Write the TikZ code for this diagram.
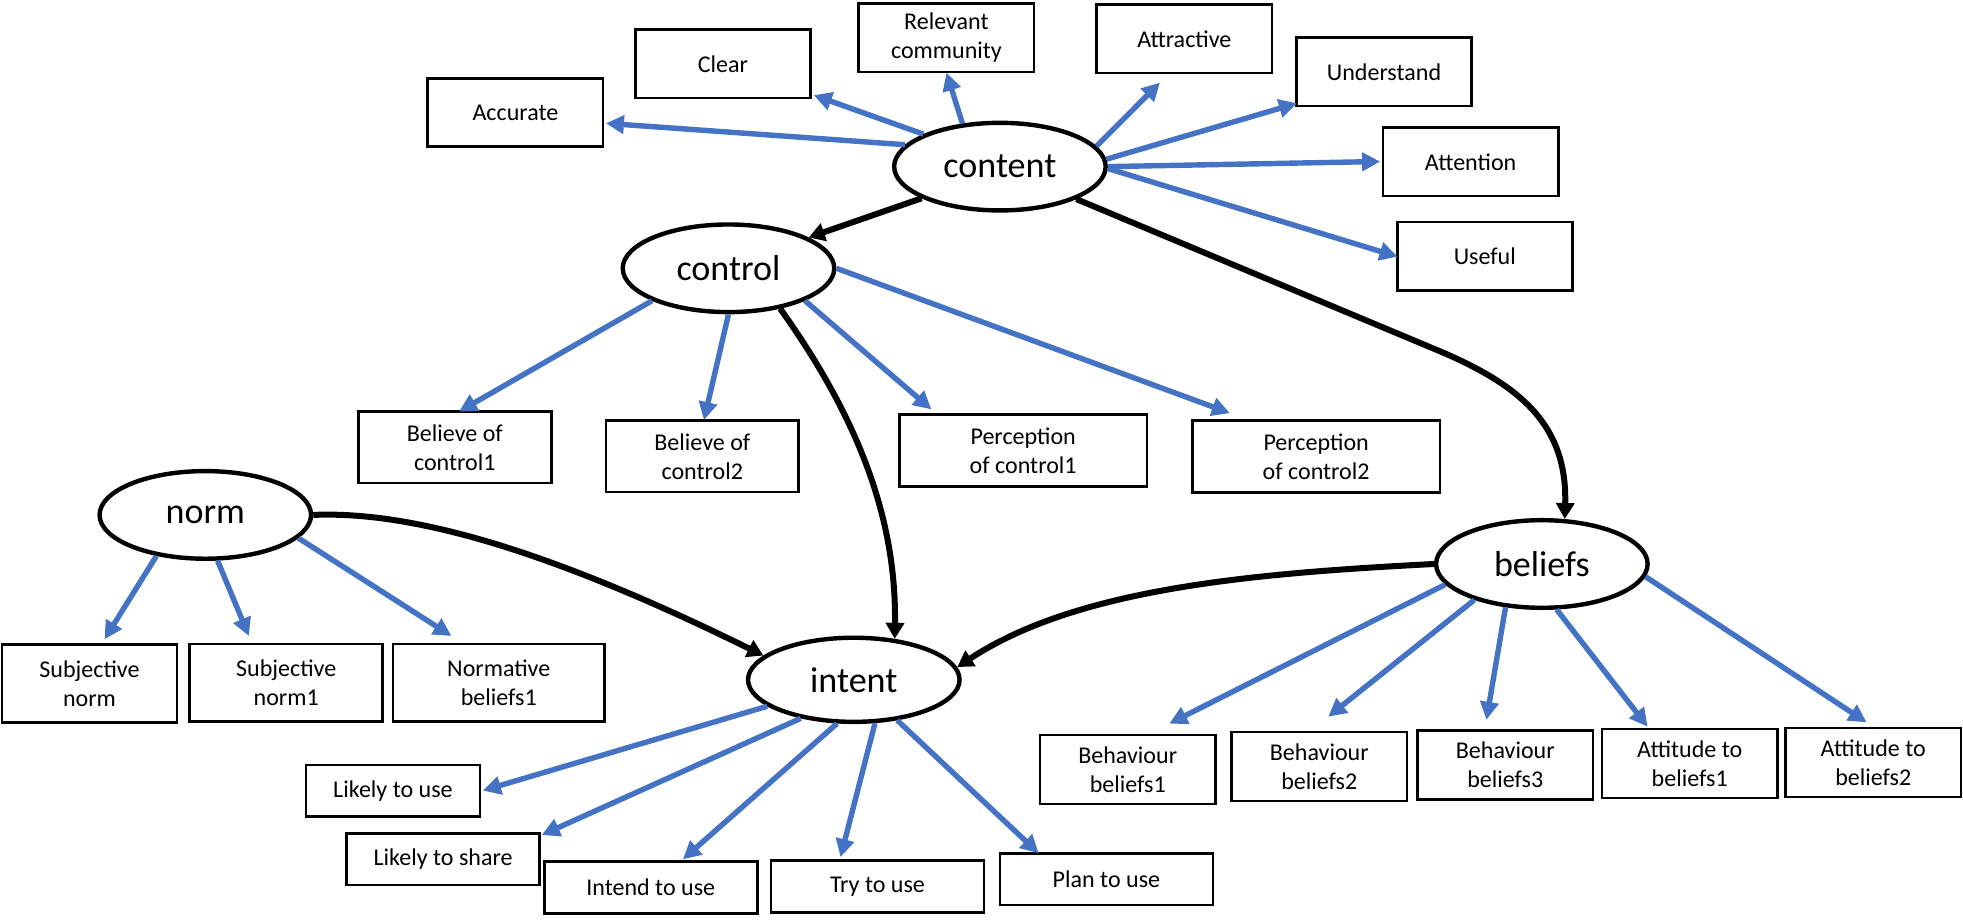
\documentclass[tikz,border=0pt]{standalone}
\usepackage{fontspec}
\setmainfont{Carlito}
\usetikzlibrary{arrows.meta,shapes.geometric}
\definecolor{linkblue}{HTML}{4472C4}
\begin{document}
\begin{tikzpicture}[x=0.625pt,y=-0.625pt,
  box/.style={draw, line width=1.35pt, align=center, inner sep=0pt, font=\fontsize{12}{14.5}\selectfont},
  topbox/.style={box, minimum width=87.5pt, minimum height=34pt},
  oval/.style={draw, ellipse, line width=2.2pt, inner sep=0pt, minimum width=105.6pt, minimum height=43.75pt, font=\fontsize{18}{20}\selectfont},
  link/.style={draw=linkblue, line width=2.7pt, -{Triangle[length=9pt,width=9pt]}},
  flow/.style={draw=black, line width=3pt, -{Triangle[length=8pt,width=9pt]}},
]
\useasboundingbox (0,0) rectangle (1568,735);

% ellipses
\node[oval] (content) at (798.7,133.1) {content};
\node[oval] (control) at (581.9,214.3) {control};
\node[oval] (norm) at (164,411.3) {norm};
\node[oval, minimum height=42pt] (intent) at (682,543) {intent};
\node[oval] (beliefs) at (1231.6,450.5) {beliefs};

% top boxes
\node[topbox] (acc) at (411.7,89.9) {Accurate};
\node[topbox] (clear) at (577.5,51) {Clear};
\node[topbox] (relev) at (756,30.2) {Relevant\\community};
\node[topbox] (attr) at (946,31) {Attractive};
\node[topbox] (und) at (1105.5,57.4) {Understand};
\node[topbox] (att) at (1174.7,129.3) {Attention};
\node[topbox] (use) at (1186,204.6) {Useful};

% control children
\node[box, minimum width=96.25pt, minimum height=35.6pt] (boc1) at (363.3,357.3) {Believe of\\control1};
\node[box, minimum width=96.25pt, minimum height=35.6pt] (boc2) at (561,364.5) {Believe of\\control2};
\node[box, minimum width=123.75pt, minimum height=36pt] (poc1) at (817.3,359.8) {Perception\\of control1};
\node[box, minimum width=123.75pt, minimum height=36pt] (poc2) at (1051.3,364.5) {Perception\\of control2};

% norm children
\node[box, minimum width=87.5pt, minimum height=38.75pt] (sn) at (71.5,546) {Subjective\\norm};
\node[box, minimum width=96.25pt, minimum height=38.75pt] (sn1) at (228.6,545.4) {Subjective\\norm1};
\node[box, minimum width=105.6pt, minimum height=38.75pt] (nb1) at (398.4,545.4) {Normative\\beliefs1};

% intent children
\node[box, minimum width=86.9pt, minimum height=25.8pt] (lu) at (313.9,631.7) {Likely to use};
\node[box, minimum width=96.25pt, minimum height=25.6pt] (ls) at (353.9,686.5) {Likely to share};
\node[box, minimum width=106.25pt, minimum height=25.8pt] (itu) at (519.8,708.9) {Intend to use};
\node[box, minimum width=106.25pt, minimum height=25.8pt] (ttu) at (700.9,708.2) {Try to use};
\node[box, minimum width=106.25pt, minimum height=25.6pt] (ptu) at (883.8,702.4) {Plan to use};

% beliefs children
\node[box, minimum width=87.5pt, minimum height=34.4pt] (bb1) at (900.8,614.6) {Behaviour\\beliefs1};
\node[box, minimum width=87.5pt, minimum height=34.4pt] (bb2) at (1053.8,612.2) {Behaviour\\beliefs2};
\node[box, minimum width=87.5pt, minimum height=34.4pt] (bb3) at (1202.4,611) {Behaviour\\beliefs3};
\node[box, minimum width=87.5pt, minimum height=34.4pt] (ab1) at (1349.7,609.8) {Attitude to\\beliefs1};
\node[box, minimum width=87.5pt, minimum height=34.4pt] (ab2) at (1496.3,609) {Attitude to\\beliefs2};

% arrow tips (free ends)
\coordinate (tacc) at (484,98.5);
\coordinate (tclear) at (650,76);
\coordinate (trelev) at (756,58);
\coordinate (tattr) at (926.5,66);
\coordinate (tund) at (1036,82.5);
\coordinate (tatt) at (1102.4,129);
\coordinate (tuse) at (1116.4,205);
\coordinate (tboc1) at (366.6,328.8);
\coordinate (tboc2) at (562.3,335.5);
\coordinate (tpoc1) at (744,327);
\coordinate (tpoc2) at (982.4,330);
\coordinate (tsn) at (83.5,510.6);
\coordinate (tsn1) at (198.8,508);
\coordinate (tnb1) at (360.6,508);
\coordinate (tlu) at (385.7,631.5);
\coordinate (tls) at (432.7,667);
\coordinate (titu) at (545.5,686.4);
\coordinate (tttu) at (671.4,684.6);
\coordinate (tptu) at (829.7,681.6);
\coordinate (tbb1) at (934,578);
\coordinate (tbb2) at (1061,572.4);
\coordinate (tbb3) at (1187.3,575);
\coordinate (tab1) at (1316,580.4);
\coordinate (tab2) at (1491,577);
\coordinate (cbA) at (1150,280.5);

% blue links
\draw[link] (content.167.8) -- (tacc);
\draw[link] (content.157.7) -- (tclear);
\draw[link] (content.131.1) -- (trelev);
\draw[link] (content.12.1) -- (tattr);
\draw[link] (content.4.6) -- (tund);
\draw[link] (content.0) -- (tatt);
\draw[link] (content.-1.8) -- (tuse);

\draw[link] (control.203.2) -- (tboc1);
\draw[link] (control.270) -- (tboc2);
\draw[link] (control.-23.6) -- (tpoc1);
\draw[link] (control.-0.9) -- (tpoc2);

\draw[link] (norm.220) -- (tsn);
\draw[link] (norm.-75.7) -- (tsn1);
\draw[link] (norm.-14.1) -- (tnb1);

\draw[link] (intent.197.4) -- (tlu);
\draw[link] (intent.216.2) -- (tls);
\draw[link] (intent.249.4) -- (titu);
\draw[link] (intent.-64.1) -- (tttu);
\draw[link] (intent.-43.9) -- (tptu);

\draw[link] (beliefs.192) -- (tbb1);
\draw[link] (beliefs.208.2) -- (tbb2);
\draw[link] (beliefs.230.3) -- (tbb3);
\draw[link] (beliefs.-72.7) -- (tab1);
\draw[link] (beliefs.-7.3) -- (tab2);

% black flows
\draw[flow] (content.202.8) -- (control.21);
\draw[flow] (content.-23.1) -- (cbA) .. controls (1215,308) and (1252,340) .. (beliefs.63);
\draw[flow] (control.-38) .. controls (690,340) and (716,420) .. (intent.45);
\draw[flow] (norm.0) .. controls (330,408) and (440,440) .. (intent.165);
\draw[flow] (beliefs.180) .. controls (1000,458) and (860,470) .. (intent.7);
\end{tikzpicture}
\end{document}
